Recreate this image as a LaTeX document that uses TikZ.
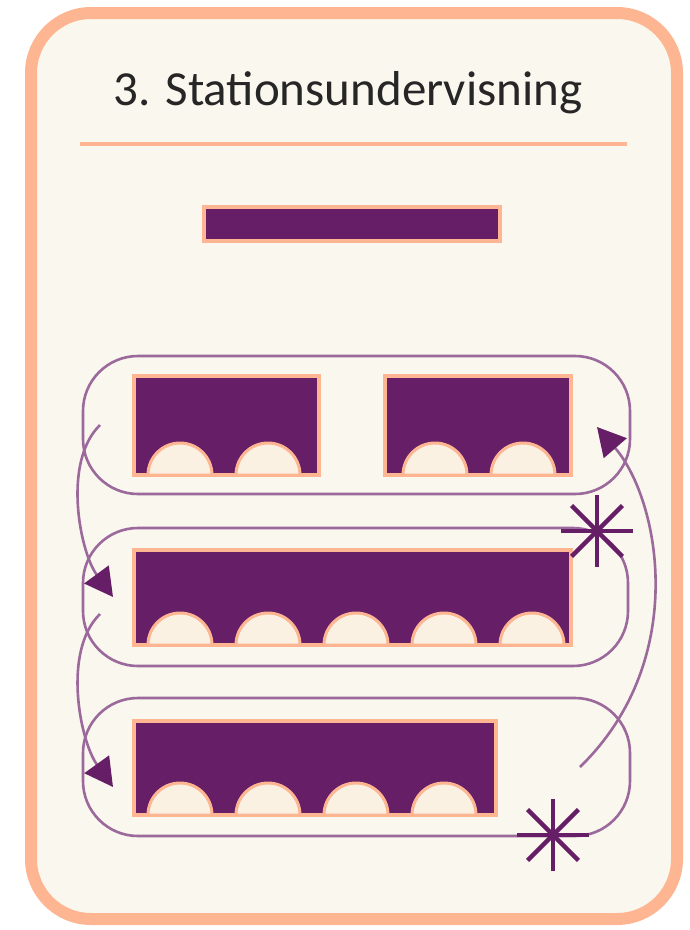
\documentclass[tikz,border=0pt]{standalone}
\usepackage{fontspec}
\setmainfont{Carlito}
\usepackage{tikz}
\usetikzlibrary{arrows.meta}

\definecolor{plum}{HTML}{661F66}
\definecolor{peach}{HTML}{FDB592}
\definecolor{cream}{HTML}{FAF7EE}
\definecolor{seatcream}{HTML}{FBF1E2}
\definecolor{tourline}{HTML}{9B699B}

\begin{document}
\begin{tikzpicture}[
      x=1pt, y=1pt,
      card/.style={
        draw=peach,
        fill=cream,
        line width=12pt,
        rounded corners=60pt,
        inner sep=0pt
      },
      desk/.style={
        draw=peach,
        fill=plum,
        line width=4pt,
        inner sep=0pt
      },
      seat/.style={
        draw=peach,
        fill=seatcream,
        line width=3pt
      },
      tour/.style={
        draw=tourline,
        line width=2.6pt,
        rounded corners=55pt,
        inner sep=0pt
      },
      spark/.style={
        draw=plum,
        line width=4.5pt
      },
      move/.style={
        draw=tourline,
        line width=2.6pt,
        -{Triangle[length=28pt, width=30pt, color=plum]}
      }
    ]
      \useasboundingbox (0,0) rectangle (689,-930);

      \node[card, minimum width=646pt, minimum height=906pt] (card) at (354,-466) {};

      \node[anchor=base, text=black!85, inner sep=0pt] (head) at (348,-105)
        {\fontsize{49}{58}\selectfont 3. Stationsundervisning};
      \draw[peach, line width=4pt] (80,-144) -- (627,-144);

      % teacher
      \node[desk, minimum width=296pt, minimum height=34pt] (board) at (352,-224) {};

      % circuits around the groups
      \node[tour, minimum width=547pt, minimum height=138pt] (t1) at (356.5,-425) {};
      \node[tour, minimum width=545pt, minimum height=138pt] (t2) at (355.5,-597) {};
      \node[tour, minimum width=547pt, minimum height=138pt] (t3) at (356.5,-767) {};

      % tables
      \node[desk, minimum width=185pt, minimum height=99pt] (g1l) at (226.5,-425.5) {};
      \node[desk, minimum width=186pt, minimum height=99pt] (g1r) at (478,-425.5) {};
      \node[desk, minimum width=437pt, minimum height=95pt] (g2) at (352.5,-597.5) {};
      \node[desk, minimum width=362pt, minimum height=94pt] (g3) at (315,-768) {};

      % pupils
      \foreach \cx in {180,268,435,523}
        \draw[seat] (\cx+32,-475) arc (0:180:32) -- cycle;
      \foreach \cx in {180,268,356,444,532}
        \draw[seat] (\cx+32,-645) arc (0:180:32) -- cycle;
      \foreach \cx in {180,268,356,444}
        \draw[seat] (\cx+32,-815) arc (0:180:32) -- cycle;

      % stations
      \coordinate (s1) at (597,-531);
      \coordinate (s2) at (553,-835);
      \foreach \a in {0,45,...,315} {
        \draw[spark] (s1) -- ++(\a:36);
        \draw[spark] (s2) -- ++(\a:36);
      }

      % moving on
      \coordinate (a1) at (100,-425);
      \coordinate (a2) at (113,-597);
      \coordinate (b1) at (100,-614);
      \coordinate (b2) at (113,-787);
      \coordinate (c1) at (580,-767);
      \coordinate (c2) at (597,-427);

      \draw[move] (a1) .. controls (62,-462) and (80,-552) .. (a2);
      \draw[move] (b1) .. controls (62,-651) and (80,-741) .. (b2);
      \draw[move] (c1) .. controls (690,-660) and (660,-500) .. (c2);
    \end{tikzpicture}
\end{document}
